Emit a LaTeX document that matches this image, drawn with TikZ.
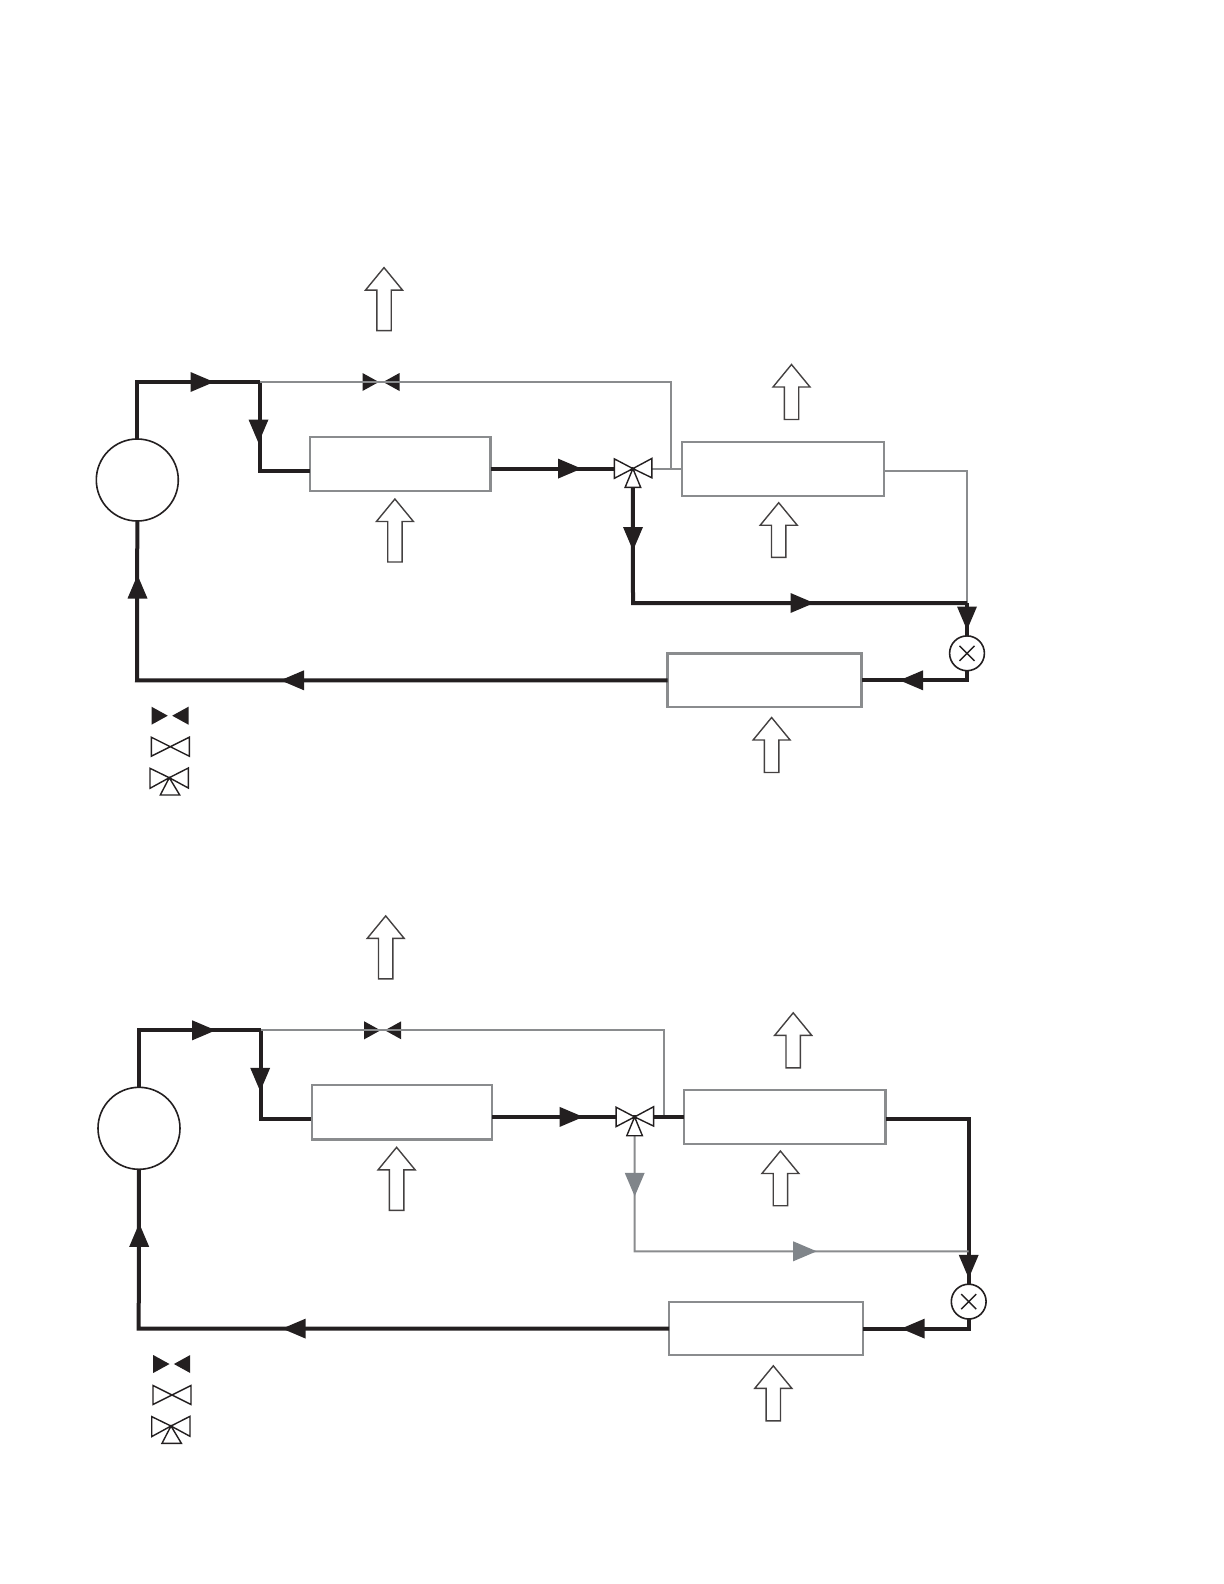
\documentclass[tikz,border=0pt]{standalone}
\definecolor{inkblack}{HTML}{231F20}
\definecolor{linegrey}{HTML}{8A8C8E}
\definecolor{tipgrey}{HTML}{80858A}
\tikzset{
  x=0.5pt,y=-0.5pt,
  hot/.style={draw=inkblack,line width=2pt,line join=miter},
  cold/.style={draw=linegrey,line width=1pt,line join=miter},
  hxbox/.style={draw=linegrey,line width=1.1pt,rectangle,inner sep=0pt,outer sep=0pt},
  compr/.style={draw=inkblack,line width=0.8pt,circle,fill=white,inner sep=0pt,outer sep=0pt,minimum size=41pt},
  expv/.style={draw=inkblack,line width=0.8pt,circle,fill=white,inner sep=0pt,outer sep=0pt,minimum size=17.4pt},
  heatarrow/.style={draw=inkblack!85,line width=0.7pt,fill=white,line join=miter},
  valveopen/.style={draw=inkblack,line width=0.7pt,fill=white,line join=miter},
}
% flow tip: x, y, rotation, colour
\newcommand\flowtip[4]{\fill[#4,shift={(#1,#2)},rotate=#3] (-11.5,-10) -- (12,0) -- (-11.5,10) -- cycle;}
% heat arrow: apex x, apex y, total length
\newcommand\heatup[3]{\draw[heatarrow,shift={(#1,#2)}] (0,0) -- (18.5,22.5) -- (7.2,22.5) -- (7.2,#3) -- (-7.2,#3) -- (-7.2,22.5) -- (-18.5,22.5) -- cycle;}
% closed two-way valve: centre
\newcommand\closedvalve[2]{\fill[inkblack,shift={(#1,#2)}] (-2.2,0) -- (-18.5,-9) -- (-18.5,9) -- cycle (2.2,0) -- (18.5,-9) -- (18.5,9) -- cycle;}
\newcommand\threeway[2]{\draw[valveopen,shift={(#1,#2)}] (0,0) -- (-18.5,-9.7) -- (-18.5,9.7) -- cycle (0,0) -- (19,-10.2) -- (19,9.2) -- cycle (0,0) -- (7.8,18.8) -- (-7.8,18.8) -- cycle;}
% parts shared by both cycles
\newcommand\sharedparts{
  \node[compr] (comp) at (137.3,480) {};
  \node[hxbox,minimum width=90.3pt,minimum height=27.25pt] (boxa) at (400.2,464) {};
  \node[hxbox,minimum width=100.9pt,minimum height=27pt] (boxb) at (782.9,468.7) {};
  \node[hxbox,minimum width=97pt,minimum height=26.8pt] (boxc) at (764.5,680.2) {};
  \node[expv] (exp) at (967,653.3) {};
  \coordinate (tee) at (259.5,382);
  \coordinate (ina) at (309.5,470.6);
  \coordinate (valve) at (632.9,468.6);
  \coordinate (low) at (137,680.3);
  \coordinate (join) at (967,603);
  \coordinate (outc) at (967,680.3);
  \draw[hot] (comp.north) |- (tee);
  \draw[hot] (tee) |- (ina);
  \draw[hot] (boxa.east |- valve) -- (valve);
  \draw[hot] (join) -- (exp.north);
  \draw[hot] (exp.south) -- (outc) -- (boxc.east |- outc);
  \draw[hot] (boxc.west |- low) -- (low) -- (comp.south);
  \draw[inkblack,line width=0.7pt] (exp.center) ++(-7.5,-7.5) -- ++(15,15) (exp.center) ++(7.5,-7.5) -- ++(-15,15);
  \flowtip{202}{382}{0}{inkblack}
  \flowtip{258.5}{431}{-90}{inkblack}
  \flowtip{569.5}{468.6}{0}{inkblack}
  \flowtip{967}{618}{-90}{inkblack}
  \flowtip{911.5}{680.3}{180}{inkblack}
  \flowtip{292.5}{680.3}{180}{inkblack}
  \flowtip{137.5}{587}{90}{inkblack}
  \heatup{384}{267.6}{63}
  \heatup{394.9}{499}{63}
  \heatup{791.5}{364.5}{55}
  \heatup{778.7}{502.7}{54.7}
  \heatup{771.6}{717.5}{55}
  \closedvalve{381}{382}
  % legend
  \closedvalve{170}{715.7}
  \draw[valveopen,shift={(170.3,746.7)}] (0,0) -- (-19,-9.5) -- (-19,9.5) -- cycle (0,0) -- (19,-9.5) -- (19,9.5) -- cycle;
  \draw[valveopen] (169.3,777.7) -- (150,768.3) -- (150,788.3) -- cycle (169.3,777.7) -- (188.3,768) -- (188.3,788) -- cycle (169.3,777.7) -- (179.7,795) -- (160.3,795) -- cycle;
}
\begin{document}
\begin{tikzpicture}
\useasboundingbox (0,0) rectangle (1224,1584);
\begin{scope}
  \sharedparts
  \coordinate (rise) at (671,382);
  \draw[cold] (tee) -- (rise) -- (671,468.6);
  \draw[cold] (valve) -- (boxb.west |- valve);
  \draw[cold] (boxb.east |- ina) -| (join);
  \coordinate (vlow) at (633,603);
  \draw[hot] (valve) ++(0,18) -- (vlow) -- (join);
  \flowtip{633}{538.5}{-90}{inkblack}
  \flowtip{802}{603}{0}{inkblack}
  \threeway{632.9}{468.6}
\end{scope}
\begin{scope}[shift={(1.7,648.3)}]
  \sharedparts
  \coordinate (rise) at (662.5,382);
  \draw[cold] (tee) -- (rise) -- (662.5,467.5);
  \draw[hot] (valve) -- (boxb.west |- valve);
  \draw[hot] (boxb.east |- ina) -| (join);
  \coordinate (vlow) at (633,603);
  \draw[cold] (valve) ++(0,18) -- (vlow) -- (join);
  \flowtip{633}{536}{-90}{tipgrey}
  \flowtip{803}{603}{0}{tipgrey}
  \threeway{632.9}{468.6}
\end{scope}
\end{tikzpicture}
\end{document}
